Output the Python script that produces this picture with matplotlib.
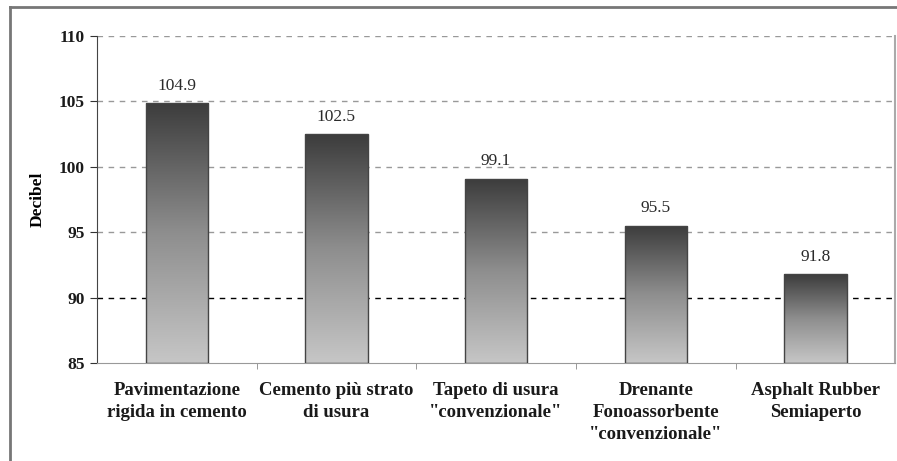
import matplotlib.pyplot as plt
from matplotlib.lines import Line2D
import numpy as np

categories = ["Pavimentazione\nrigida in cemento", "Cemento più strato\ndi usura",
              "Tapeto di usura\n\"convenzionale\"", "Drenante\nFonoassorbente\n\"convenzionale\"",
              "Asphalt Rubber\nSemiaperto"]
values = [104.9, 102.5, 99.1, 95.5, 91.8]
value_labels = ["104.9", "102.5", "99.1", "95.5", "91.8"]
yticks = [85, 90, 95, 100, 105, 110]

plt.rcParams['font.family'] = ['Liberation Serif', 'DejaVu Serif']

fig = plt.figure(figsize=(8.97, 4.61), dpi=100)
ax = fig.add_axes([0.108, 0.2126, 0.89, 0.7094])

x = np.arange(len(categories))
bars = ax.bar(x, np.array(values) - 85, bottom=85, width=0.39,
              color='none', edgecolor='#444444', linewidth=1.0, zorder=3)

# vertical gradient inside each bar: dark on top, light at bottom
grad = np.linspace(0, 1, 256).reshape(-1, 1)
cmap = plt.matplotlib.colors.LinearSegmentedColormap.from_list('g', ['#c6c6c6', '#8e8e8e', '#3c3c3c'])
for b in bars:
    bx, by = b.get_x(), b.get_y()
    im = ax.imshow(grad, cmap=cmap, origin='lower', aspect='auto',
                   extent=[bx, bx + b.get_width(), by, by + b.get_height()], zorder=2)
    im.set_clip_path(b)

for xi, v, lab in zip(x, values, value_labels):
    ax.text(xi, v + 0.7, lab, ha='center', va='bottom', fontsize=12.5, color='#2a2a2a')

ax.set_xlim(-0.5, 4.5)
ax.set_ylim(85, 110)
ax.set_yticks(yticks)
ax.set_yticklabels([str(t) for t in yticks], fontsize=12.5, fontweight='bold', color='#1a1a1a')

for t in yticks[1:]:
    col = '#000000' if t == 90 else '#999999'
    ax.axhline(t, color=col, linestyle=(0, (4, 4)), linewidth=1.0, zorder=1)

ax.set_xticks(x)
ax.set_xticklabels(categories, fontsize=13.5, fontweight='bold', color='#1a1a1a', linespacing=1.35)
ax.set_xticks(np.arange(0.5, 4.5, 1), minor=True)
ax.tick_params(axis='x', which='major', length=0, pad=14)
ax.tick_params(axis='x', which='minor', length=4, color='#888888', direction='out')
ax.tick_params(axis='y', length=5, color='#333333', direction='out', pad=4)

ax.set_ylabel("Decibel", fontsize=12.5, fontweight='bold', labelpad=9)

ax.spines['top'].set_visible(False)
ax.spines['left'].set_color('#444444')
ax.spines['bottom'].set_color('#999999')
ax.spines['right'].set_color('#aaaaaa')
ax.spines['right'].set_linewidth(1.5)

# outer frame (top and left edges visible)
fig.add_artist(Line2D([0.011, 1.0], [0.985, 0.985], color='#777777', linewidth=2))
fig.add_artist(Line2D([0.011, 0.011], [0.0, 0.985], color='#777777', linewidth=2))

plt.savefig('out.png', dpi=100)
